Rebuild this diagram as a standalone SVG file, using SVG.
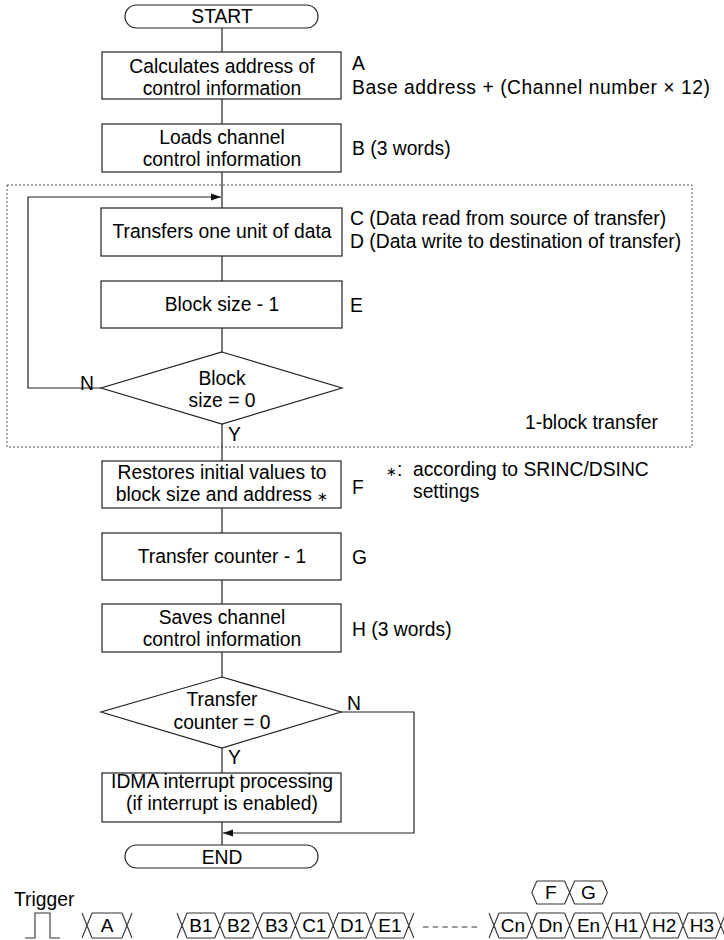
<svg xmlns="http://www.w3.org/2000/svg" width="724" height="940" viewBox="0 0 724 940">
<style>
text{font-family:"Liberation Sans",Arial,sans-serif;font-size:19.3px;fill:#000}
.c{text-anchor:middle}
.h{font-size:19px;text-anchor:middle}
.ast{font-size:13px}
.box{fill:#fff;stroke:#222;stroke-width:1.2}
.ln{fill:none;stroke:#222;stroke-width:1.2}
.tm{fill:none;stroke:#333;stroke-width:1.1}
.dot{fill:none;stroke:#555;stroke-width:1;stroke-dasharray:2,2}
</style>
<defs>
<marker id="ah" markerWidth="10" markerHeight="8" refX="10" refY="4" orient="auto" markerUnits="userSpaceOnUse">
<path d="M0,0.5L10,4L0,7.5z" fill="#111"/>
</marker>
</defs>
<rect class="dot" x="7" y="185" width="685" height="262"/>
<g id="connectors">
<path class="ln" d="M222,28V52M222,99V124M222,172V208M222,256V281M222,328V352M222,424V461M222,508V533M222,580V604M222,652V677M222,748V773M222,822V845"/>
<path class="ln" d="M101,388H28V197H221" marker-end="url(#ah)"/>
<path class="ln" d="M341,712H414V833H223" marker-end="url(#ah)"/>
</g>
<g id="start"><rect class="box" x="125" y="5" width="193" height="23" rx="11.5"/><text class="c" x="222" y="23">START</text></g>
<g id="nA"><rect class="box" x="102" y="52" width="239" height="47"/><text class="c" x="222" y="73">Calculates address of</text><text class="c" x="222" y="95">control information</text></g>
<g id="lA"><text x="352" y="70">A</text><text x="352" y="94" textLength="358" lengthAdjust="spacing">Base address + (Channel number × 12)</text></g>
<g id="nB"><rect class="box" x="102" y="124" width="239" height="48"/><text class="c" x="222" y="144">Loads channel</text><text class="c" x="222" y="166">control information</text></g>
<g id="lB"><text x="352" y="155">B (3 words)</text></g>
<g id="nC"><rect class="box" x="101" y="208" width="241" height="48"/><text class="c" x="222" y="238">Transfers one unit of data</text></g>
<g id="lC"><text x="350" y="225">C (Data read from source of transfer)</text><text x="350" y="248">D (Data write to destination of transfer)</text></g>
<g id="nE"><rect class="box" x="101" y="281" width="241" height="47"/><text class="c" x="222" y="311">Block size - 1</text></g>
<g id="lE"><text x="350" y="312">E</text></g>
<g id="d1"><path class="box" d="M222,352L342,388L222,424L101,388Z"/><text class="c" x="222" y="385">Block</text><text class="c" x="222" y="407">size = 0</text></g>
<text x="80" y="390">N</text>
<text x="228" y="441">Y</text>
<text x="525" y="429">1-block transfer</text>
<g id="nF"><rect class="box" x="102" y="461" width="239" height="47"/><text class="c" x="222" y="479">Restores initial values to</text><text class="c" x="222" y="501">block size and address <tspan class="ast">∗</tspan></text></g>
<g id="lF"><text x="352" y="494">F</text><text x="386" y="476"><tspan class="ast">∗</tspan>:</text><text x="413" y="476">according to SRINC/DSINC</text><text x="413" y="498">settings</text></g>
<g id="nG"><rect class="box" x="102" y="533" width="239" height="47"/><text class="c" x="222" y="563">Transfer counter - 1</text></g>
<g id="lG"><text x="352" y="564">G</text></g>
<g id="nH"><rect class="box" x="102" y="604" width="239" height="48"/><text class="c" x="222" y="624">Saves channel</text><text class="c" x="222" y="646">control information</text></g>
<g id="lH"><text x="352" y="636">H (3 words)</text></g>
<g id="d2"><path class="box" d="M222,677L341,712L222,748L101,712Z"/><text class="c" x="222" y="706">Transfer</text><text class="c" x="222" y="729">counter = 0</text></g>
<text x="347" y="710">N</text>
<text x="228" y="764">Y</text>
<g id="nI"><rect class="box" x="102" y="773" width="239" height="49"/><text class="c" x="222" y="788">IDMA interrupt processing</text><text class="c" x="222" y="810">(if interrupt is enabled)</text></g>
<g id="end"><rect class="box" x="125" y="845" width="193" height="23" rx="11.5"/><text class="c" x="222" y="864">END</text></g>
<g id="timing">
<text x="14" y="906">Trigger</text>
<path class="tm" d="M25,938H35V913H50V938H60"/>
<path class="tm" d="M82,913L92,938M82,938L92,913M122,913L132,938M122,938L132,913M92,913H122M92,938H122"/>
<text class="h" x="107" y="932">A</text>
<path class="tm" d="M177,913L187,938M177,938L187,913M214.8,913L224.8,938M214.8,938L224.8,913M252.6,913L262.6,938M252.6,938L262.6,913M290.4,913L300.4,938M290.4,938L300.4,913M328.2,913L338.2,938M328.2,938L338.2,913M366,913L376,938M366,938L376,913M403.8,913L413.8,938M403.8,938L413.8,913M187,913H214.8M187,938H214.8M224.8,913H252.6M224.8,938H252.6M262.6,913H290.4M262.6,938H290.4M300.4,913H328.2M300.4,938H328.2M338.2,913H366M338.2,938H366M376,913H403.8M376,938H403.8"/>
<text class="h" x="200.9" y="932">B1</text><text class="h" x="238.7" y="932">B2</text><text class="h" x="276.5" y="932">B3</text><text class="h" x="314.3" y="932">C1</text><text class="h" x="352.1" y="932">D1</text><text class="h" x="389.9" y="932">E1</text>
<path class="tm" d="M423,927H477" stroke-dasharray="5.5,4.2"/>
<path class="tm" d="M489,913L499,938M489,938L499,913M526.8,913L536.8,938M526.8,938L536.8,913M564.6,913L574.6,938M564.6,938L574.6,913M602.4,913L612.4,938M602.4,938L612.4,913M640.2,913L650.2,938M640.2,938L650.2,913M678,913L688,938M678,938L688,913M715.8,913L725.8,938M715.8,938L725.8,913M499,913H526.8M499,938H526.8M536.8,913H564.6M536.8,938H564.6M574.6,913H602.4M574.6,938H602.4M612.4,913H640.2M612.4,938H640.2M650.2,913H678M650.2,938H678M688,913H715.8M688,938H715.8"/>
<text class="h" x="512.9" y="932">Cn</text><text class="h" x="550.7" y="932">Dn</text><text class="h" x="588.5" y="932">En</text><text class="h" x="626.3" y="932">H1</text><text class="h" x="664.1" y="932">H2</text><text class="h" x="701.9" y="932">H3</text>
<path class="tm" d="M536.8,881L531.8,892.5L536.8,904M564.6,881L574.6,904M564.6,904L574.6,881M602.4,881L607.4,892.5L602.4,904M536.8,881H564.6M536.8,904H564.6M574.6,881H602.4M574.6,904H602.4"/>
<text class="h" x="550.7" y="899">F</text><text class="h" x="588.5" y="899">G</text>
</g>
</svg>
